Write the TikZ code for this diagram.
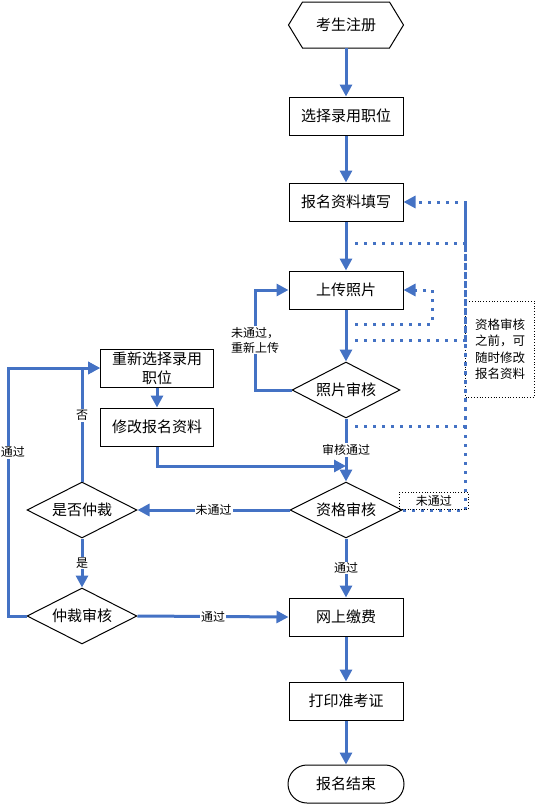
\documentclass[tikz,border=0pt]{standalone}
\usepackage{fontspec}
\setmainfont{Noto Sans CJK SC}
\usetikzlibrary{arrows.meta}
\usetikzlibrary{shapes.geometric}
\definecolor{flowblue}{HTML}{4472C4}
\tikzset{
  stepbox/.style={draw=black, line width=1pt, minimum width=114pt, minimum height=38pt,
    inner sep=0pt, align=center, font=\fontsize{15}{19}\selectfont},
  checkbox/.style={diamond, aspect=2, draw=black, line width=1pt, minimum width=112pt,
    minimum height=56pt, inner sep=0pt, font=\fontsize{15}{19}\selectfont},
  flow/.style={flowblue, line width=3pt, -{Triangle[length=12pt,width=12pt]}},
  back/.style={flowblue, line width=3pt, dash pattern=on 3pt off 6pt},
  backflow/.style={back, -{Triangle[length=12pt,width=12pt]}},
  tag/.style={fill=white, inner sep=1pt, text=black, font=\fontsize{12}{15}\selectfont},
  dotbox/.style={draw=black, text=black, dotted, line width=0.8pt, inner sep=0pt}
}

\begin{document}
\begin{tikzpicture}[x=1pt,y=-1pt]
  \useasboundingbox (0,0) rectangle (539,809);

  % main column
  \node[stepbox, draw=none, minimum height=45pt] (reg) at (346,25) {考生注册};
  \draw[line width=1pt] (reg.west) -- ([xshift=14pt]reg.north west) -- ([xshift=-14pt]reg.north east)
    -- (reg.east) -- ([xshift=-14pt]reg.south east) -- ([xshift=14pt]reg.south west) -- cycle;
  \node[stepbox] (pick) at (346,116) {选择录用职位};
  \node[stepbox] (fill) at (346,202) {报名资料填写};
  \node[stepbox] (photo) at (346,290) {上传照片};
  \node[checkbox, minimum width=108pt] (pcheck) at (346,390) {照片审核};
  \node[checkbox] (qcheck) at (346,510) {资格审核};
  \node[stepbox] (pay) at (346,617) {网上缴费};
  \node[stepbox] (print) at (346,701) {打印准考证};
  \node[stepbox, rounded corners=19pt, minimum width=116pt] (done) at (346,784) {报名结束};

  % left column
  \node[stepbox, minimum width=113pt] (repick) at (157,368) {重新选择录用\\职位};
  \node[stepbox, minimum width=113pt] (edit) at (157,427) {修改报名资料};
  \node[checkbox, minimum width=110pt] (arb) at (82,510) {是否仲裁};
  \node[checkbox, minimum width=110pt] (arbcheck) at (82,616) {仲裁审核};

  % note
  \node[dotbox, minimum width=69pt, minimum height=96pt, align=left,
    font=\fontsize{12.5}{16.5}\selectfont] (note) at (500,349) {资格审核\\之前，可\\随时修改\\报名资料};

  \coordinate (pturn) at (255,390);
  \coordinate (merge) at (346,466);
  \coordinate (lturn) at (8,616);
  \coordinate (rtop) at (465,202);
  \coordinate (ptop) at (432,290);
  \coordinate (b1) at (355,243);
  \coordinate (b2) at (355,340);
  \coordinate (b3) at (355,426);
  \coordinate (b4) at (355,324);

  \draw[flow] (reg) -- (pick);
  \draw[flow] (pick) -- (fill);
  \draw[flow] (fill) -- (photo);
  \draw[flow] (photo) -- (pcheck);
  \draw[flow] (pcheck) -- node[tag]{审核通过} (qcheck);
  \draw[flow] (qcheck) -- node[tag]{通过} (pay);
  \draw[flow] (pay) -- (print);
  \draw[flow] (print) -- (done);

  \draw[flow] (pcheck.west) -- (pturn) |- node[tag, pos=0.25, align=left]{未通过，\\重新上传} (photo.west);
  \draw[flow] (repick) -- (edit);
  \draw[flow] (edit.south) |- (merge);
  \draw[flow] (qcheck.west) -- node[tag]{未通过} (arb.east);
  \draw[flow] (arb.north) |- node[tag, pos=0.29]{否} (repick.west);
  \draw[flow] (arb.south) -- node[tag]{是} (arbcheck.north);
  \draw[flow] (arbcheck.east) -- node[tag]{通过} (pay.west);
  \draw[flow] (arbcheck.west) -- (lturn) |- node[tag, pos=0.33, xshift=5pt]{通过} (repick.west);

  % way back before the check
  \draw[back] (b1) -| (rtop);
  \draw[back] (b2) -| (rtop);
  \draw[back] (b3) -| (rtop);
  \draw[backflow] (qcheck.east) -| node[pos=0.25, above, dotbox, minimum width=69pt, minimum height=17pt,
    font=\fontsize{12}{15}\selectfont]{未通过} (rtop) -- (fill.east);
  \draw[backflow] (b4) -| (ptop) -- (photo.east);
\end{tikzpicture}
\end{document}
